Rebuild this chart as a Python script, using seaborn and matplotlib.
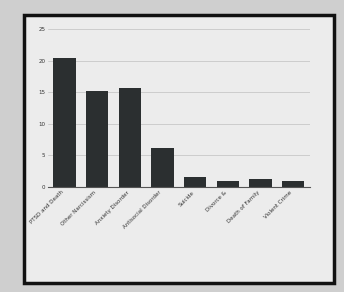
import matplotlib
matplotlib.use("Agg")
import matplotlib.pyplot as plt
import seaborn as sns
import pandas as pd
from matplotlib.patches import Rectangle

categories = ["PTSD and Death", "Other Narcissism", "Anxiety Disorder", "Antisocial Disorder",
              "Suicide", "Divorce &", "Death of Family", "Violent Crime"]
values = [20.5, 15.2, 15.6, 6.2, 1.6, 0.9, 1.2, 1.0]
yticks = [0, 5, 10, 15, 20, 25]

df = pd.DataFrame({"category": categories, "value": values})

sns.set_theme(style="whitegrid")
fig = plt.figure(figsize=(3.44, 2.92), dpi=100)
fig.patch.set_facecolor("#cfcfcf")
frame = Rectangle((0.07, 0.03), 0.9, 0.92, transform=fig.transFigure,
                  facecolor="#ececec", edgecolor="#111111", linewidth=2.5, zorder=-5)
fig.patches.append(frame)

ax = fig.add_axes([0.14, 0.36, 0.76, 0.54])
ax.set_zorder(5)
ax.set_facecolor("#ececec")
sns.barplot(data=df, x="category", y="value", color="#2b2f30", width=0.68,
            saturation=1, linewidth=0, ax=ax)
ax.set_ylim(0, 25)
ax.set_yticks(yticks)
ax.set_yticklabels([str(t) for t in yticks], fontsize=4, color="#333333")
ax.set_xticks(range(len(categories)))
ax.set_xticklabels(categories, rotation=45, ha="right", fontsize=4, color="#333333")
ax.set_xlabel("")
ax.set_ylabel("")
ax.grid(axis="y", color="#c8c8c8", linewidth=0.6)
ax.grid(axis="x", visible=False)
for s in ["top", "right", "left"]:
    ax.spines[s].set_visible(False)
ax.spines["bottom"].set_color("#555555")
ax.spines["bottom"].set_linewidth(0.8)
ax.tick_params(axis="both", length=0, pad=2)
fig.savefig("out.png", dpi=100, facecolor=fig.get_facecolor())
